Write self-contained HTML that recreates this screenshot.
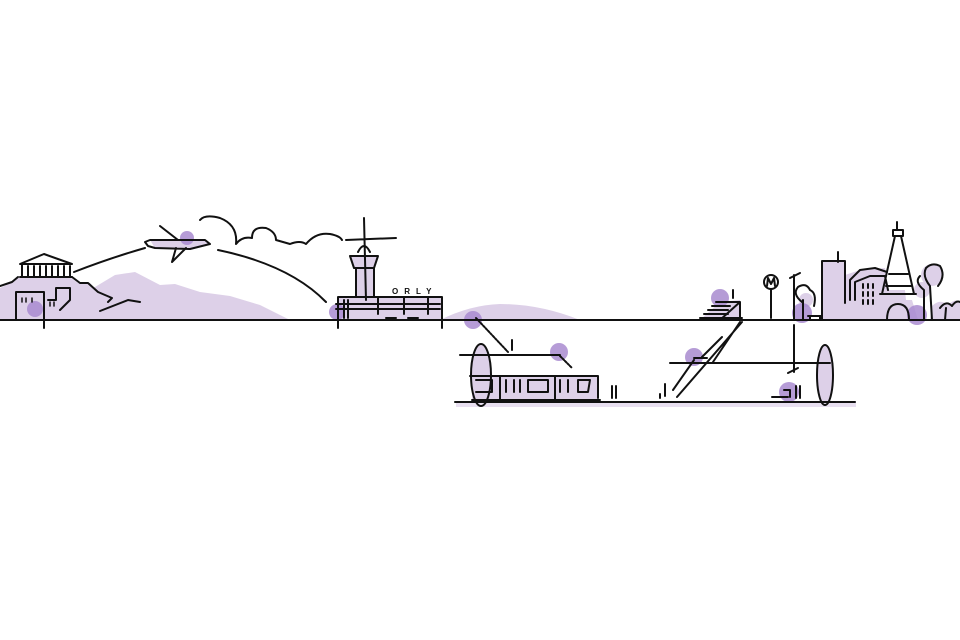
<!DOCTYPE html>
<html><head><meta charset="utf-8"><style>html,body{margin:0;padding:0;background:#fff}svg{display:block}</style></head>
<body>
<svg width="960" height="640" viewBox="0 0 960 640" xmlns="http://www.w3.org/2000/svg">
<g fill="#ddd0e8" stroke="none">
 <path d="M70 320 L90 290 L115 275 L135 272 L160 285 L175 284 L200 292 L230 296 L260 305 L290 320 Z"/>
 <path d="M440 320 Q470 305 500 304 Q540 304 580 320 Z"/>
 <path d="M0 320 L0 288 L12 282 L20 277 L70 277 L78 283 L90 283 L98 292 L110 298 L115 308 L140 302 L130 320 Z"/>
 <path d="M472 376 L598 376 L598 400 L472 400 Z"/>
 <ellipse cx="481" cy="375" rx="10" ry="31"/>
 <ellipse cx="825" cy="375" rx="8" ry="30"/>
 <rect x="456" y="401" width="400" height="6" fill="#e8dff0"/>
 <rect x="338" y="297" width="104" height="24"/>
 <rect x="356" y="267" width="18" height="30"/>
 <path d="M350 256 L378 256 L374 268 L354 268 Z"/>
 <path d="M700 320 L720 302 L740 300 L740 320 Z"/>
 <path d="M822 320 L822 261 L845 261 L845 275 L860 270 L885 268 L888 290 L905 290 L908 320 Z"/>
 <path d="M885 320 L890 300 L912 300 L918 320 Z"/>
 <circle cx="932" cy="275" r="11"/>
 <circle cx="922" cy="290" r="8"/>
 <path d="M930 320 L932 306 Q940 298 948 305 Q955 298 960 302 L960 320 Z"/>
 <circle cx="806" cy="300" r="7"/>
 <path d="M150 240 L205 240 L210 244 L190 249 L155 248 Z"/>
</g>
<g fill="#a98bd0" opacity="0.85">
 <circle cx="35" cy="309" r="8"/>
 <circle cx="187" cy="238" r="7"/>
 <circle cx="337" cy="312" r="8"/>
 <circle cx="473" cy="320" r="9"/>
 <circle cx="559" cy="352" r="9"/>
 <circle cx="720" cy="298" r="9"/>
 <circle cx="694" cy="357" r="9"/>
 <circle cx="802" cy="313" r="10"/>
 <circle cx="789" cy="392" r="10"/>
 <circle cx="917" cy="315" r="10"/>
</g>
<g fill="none" stroke="#111" stroke-width="2" stroke-linecap="round" stroke-linejoin="round">
 <line x1="0" y1="320" x2="960" y2="320"/>
 <line x1="460" y1="355" x2="560" y2="355"/>
 <line x1="455" y1="402" x2="855" y2="402"/>
 <line x1="670" y1="363" x2="830" y2="363"/>
 <!-- acropolis -->
 <path d="M20 264 L44 254 L72 264 Z M22 264 L22 277 M28 266 L28 277 M34 266 L34 277 M40 266 L40 277 M46 266 L46 277 M52 266 L52 277 M58 266 L58 277 M64 266 L64 277 M70 266 L70 277 M20 277 L72 277"/>
 <path d="M0 286 L12 282 L18 277 M72 277 L80 283 L88 283 L98 292 L112 298 L108 302 M100 311 L128 300 L140 302 M16 320 L16 292 L44 292 L44 328 M56 300 L56 288 L70 288 L70 300 L60 310 M48 300 L56 300"/>
 <path d="M22 298 L22 302 M26 298 L26 302 M32 298 L32 302 M50 302 L50 306 M54 302 L54 306" stroke-width="1.5"/>
 <path d="M74 272 Q110 258 145 248"/>
 <path d="M218 250 Q290 265 326 302"/>
 <path d="M145 242 L150 240 L205 240 L210 244 L190 249 L155 248 L148 246 Z M160 226 L178 240 M176 248 L172 262 L186 248"/>
 <path d="M200 220 Q205 214 220 218 Q238 225 236 244 Q242 236 252 238 Q252 226 266 228 Q276 232 276 240 L290 244 Q300 240 306 244 Q316 232 330 234 Q340 236 342 240"/>
 <path d="M364 218 L366 300 M346 240 L396 238 M350 256 L378 256 L374 268 L354 268 Z M356 268 L356 297 M374 268 L374 297 M358 252 Q364 240 370 252"/>
 <path d="M338 297 L442 297 L442 328 M338 297 L338 328 M336 304 L440 304 M336 309 L440 309 M344 300 L344 318 M348 300 L348 318 M378 298 L378 314 M404 298 L404 314 M428 298 L428 314 M386 318 L396 318 M408 318 L418 318"/>
 <!-- stairs -->
 <path d="M476 318 L508 352 M560 356 L572 368" stroke-dasharray="2 1.5"/>
 <path d="M512 340 L512 350"/>
 <!-- train -->
 <ellipse cx="481" cy="375" rx="10" ry="31"/>
 <path d="M470 376 L598 376 L598 398 M500 376 L500 400 M555 376 L555 400 M472 400 L600 400 M476 380 L492 380 L492 392 L476 392 M506 380 L506 392 M514 380 L514 392 M520 380 L520 392 M528 380 L548 380 L548 392 L528 392 Z M560 380 L560 392 M568 380 L568 392 M578 380 L590 380 L588 392 L578 392 Z"/>
 <path d="M612 386 L612 398 M616 386 L616 398 M665 384 L665 396 M660 394 L660 398"/>
 <!-- escalator -->
 <path d="M677 397 L742 322 M713 362 L740 322 M673 390 L694 360 M702 357 L722 337 M694 358 L707 358"/>
 <!-- platform stairs -->
 <path d="M700 318 L742 318 M704 314 L728 314 M708 310 L728 310 M712 306 L730 306 M716 302 L740 302 L740 320 M720 320 L740 302 M733 290 L733 298"/>
 <circle cx="771" cy="282" r="7"/>
 <path d="M767 286 L768 278 L771 284 L774 278 L775 286 M771 289 L771 318"/>
 <!-- elevator -->
 <path d="M790 278 L800 273 M794 275 L794 320 M794 325 L794 372 M788 373 L798 368"/>
 <ellipse cx="825" cy="375" rx="8" ry="30"/>
 <path d="M772 397 L788 397 M784 390 L790 390 L790 397 M796 386 L796 398 M800 386 L800 398"/>
 <path d="M802 302 Q792 294 798 287 Q806 282 810 290 Q817 293 814 306 M803 300 L803 320 M808 316 L822 316 M810 316 L810 320 M820 316 L820 320"/>
 <path d="M822 320 L822 261 L845 261 L845 275 M838 252 L838 262 M845 261 L845 303 M850 300 L850 280 L860 270 L875 268 L887 272 M855 300 L855 282 L870 276 L885 276 L888 290"/>
 <path d="M863 284 L863 288 M868 284 L868 288 M873 284 L873 288 M863 292 L863 296 M868 292 L868 296 M873 292 L873 296 M863 300 L863 304 M868 300 L868 304 M873 300 L873 304"/>
 <path d="M897 222 L897 230 M893 230 L903 230 L903 236 L893 236 Z M895 236 L882 294 M901 236 L914 294 M889 274 L908 274 M886 286 L912 286 M880 294 L916 294 M887 320 Q887 304 898 304 Q909 304 909 320"/>
 <path d="M924 320 L924 290 Q914 282 920 276 M932 320 L930 286 Q922 276 926 268 Q932 262 940 266 Q946 276 938 286 M940 308 Q946 300 952 306 Q956 300 960 302"/>
 <line x1="945" y1="320" x2="946" y2="308"/>
</g>
<text x="392" y="294" font-family="Liberation Sans, sans-serif" font-size="8" font-weight="bold" letter-spacing="6" fill="#111">ORLY</text>
</svg>
</body></html>
